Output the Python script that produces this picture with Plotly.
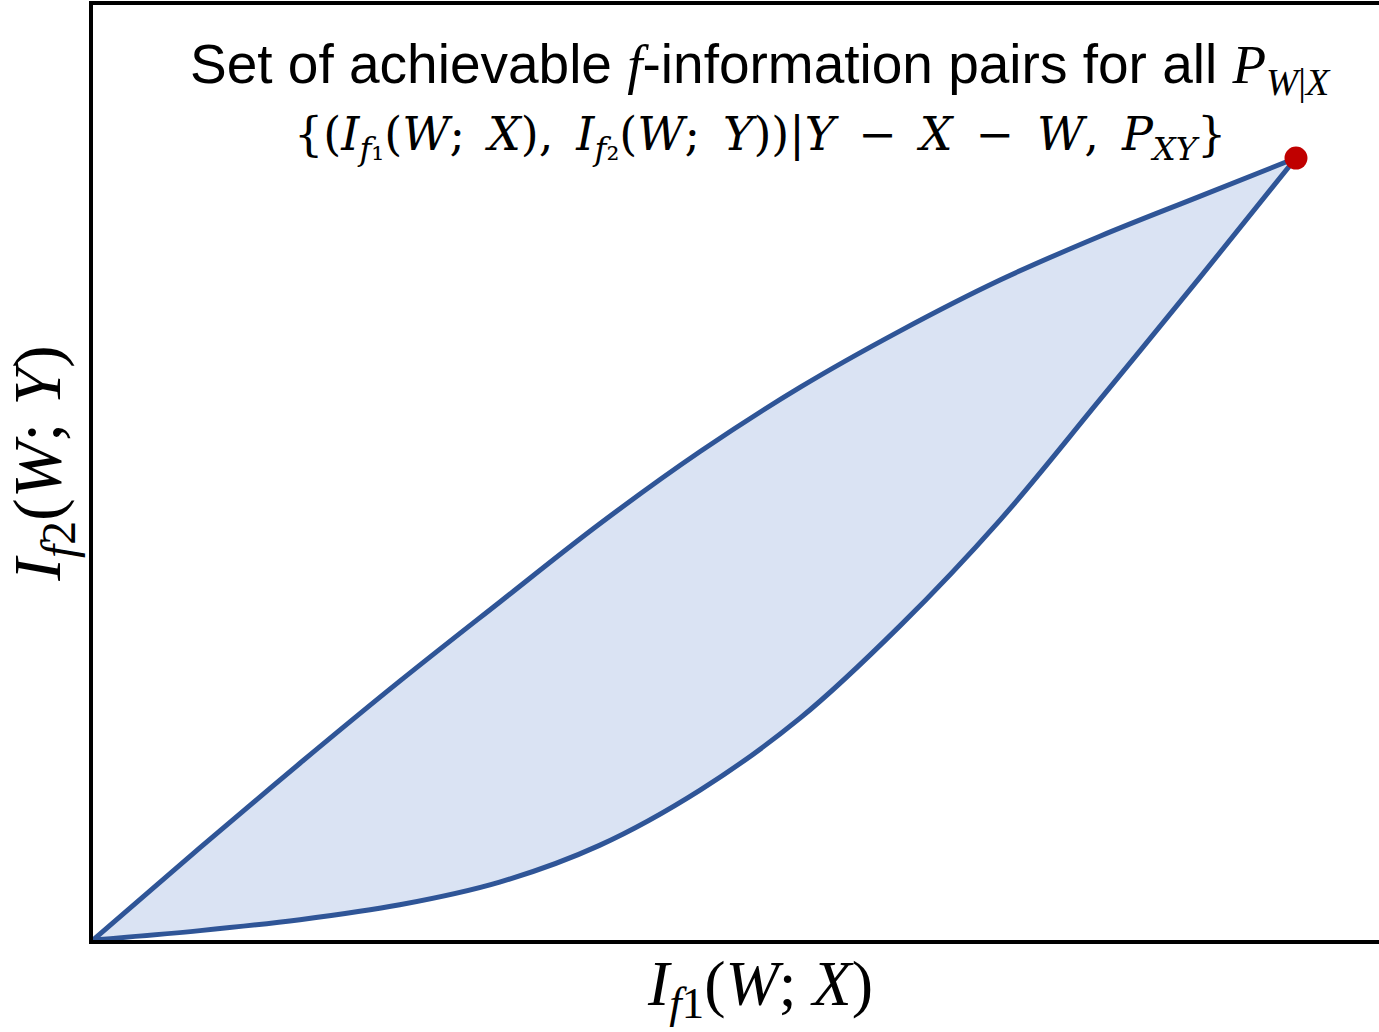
import plotly.graph_objects as go

# Boundary of the achievable region (normalised units, end point = (1, 1))
x_vals = [0.0, 0.089, 0.172, 0.255, 0.338, 0.421, 0.505, 0.588, 0.671, 0.754, 0.837, 0.920, 1.0]
upper_y = [0.0, 0.118, 0.226, 0.331, 0.432, 0.532, 0.625, 0.707, 0.779, 0.844, 0.900, 0.951, 1.0]
lower_y = [0.0, 0.012, 0.026, 0.045, 0.074, 0.121, 0.192, 0.284, 0.402, 0.537, 0.691, 0.847, 1.0]
end_point_x = [1.0]
end_point_y = [1.0]

SP = "\u2002"
title_line1 = ("Set of achievable <span style='font-family:Liberation Serif'><i>f</i></span>"
               "-information pairs for all "
               "<span style='font-family:Liberation Serif'><i>P</i><sub><i>W</i>|<i>X</i></sub></span>")
title_line2 = ("{(<i>I</i><sub><i>f</i>₁</sub>(<i>W</i>;" + SP + "<i>X</i>)," + SP +
               "<i>I</i><sub><i>f</i>₂</sub>(<i>W</i>;" + SP + "<i>Y</i>))|"
               "<i>Y</i>" + SP + "−" + SP + "<i>X</i>" + SP + "−" + SP + "<i>W</i>," + SP +
               "<i>P</i><sub><i>XY</i></sub>}")
x_label = "<i>I</i><sub><i>f</i>1</sub>(<i>W</i>; <i>X</i>)"
y_label = "<i>I</i><sub><i>f</i>2</sub>(<i>W</i>; <i>Y</i>)"

LINE = "#2F5597"
FILL = "#DAE3F3"

fig = go.Figure()
fig.add_trace(go.Scatter(x=x_vals, y=lower_y, mode="lines",
                         line=dict(color=LINE, width=5, shape="spline", smoothing=1.0),
                         showlegend=False, hoverinfo="skip"))
fig.add_trace(go.Scatter(x=x_vals, y=upper_y, mode="lines", fill="tonexty", fillcolor=FILL,
                         line=dict(color=LINE, width=5, shape="spline", smoothing=1.0),
                         showlegend=False, hoverinfo="skip"))
fig.add_trace(go.Scatter(x=end_point_x, y=end_point_y, mode="markers",
                         marker=dict(color="#C00000", size=23, line=dict(width=0)),
                         showlegend=False, hoverinfo="skip"))

fig.update_xaxes(range=[0, 1.069], showgrid=False, zeroline=False, showticklabels=False, ticks="",
                 showline=True, mirror=True, linecolor="black", linewidth=4)
fig.update_yaxes(range=[0, 1.1957], showgrid=False, zeroline=False, showticklabels=False, ticks="",
                 showline=True, linecolor="black", linewidth=4)

fig.add_annotation(text=title_line1, xref="paper", yref="paper", x=0.519, y=0.933, showarrow=False,
                   font=dict(family="Liberation Sans", size=55, color="black"), xanchor="center", yanchor="middle")
fig.add_annotation(text=title_line2, xref="paper", yref="paper", x=0.519, y=0.858, showarrow=False,
                   font=dict(family="DejaVu Serif", size=46, color="black"), xanchor="center", yanchor="middle")
fig.add_annotation(text=x_label, xref="paper", yref="paper", x=0.519, y=-0.051, showarrow=False,
                   font=dict(family="Liberation Serif", size=64, color="black"), xanchor="center", yanchor="middle")
fig.add_annotation(text=y_label, xref="paper", yref="paper", x=-0.04, y=0.509, showarrow=False, textangle=-90,
                   font=dict(family="Liberation Serif", size=68, color="black"), xanchor="center", yanchor="middle")

fig.update_layout(width=1379, height=1032, margin=dict(l=93, r=0, t=5, b=92),
                  plot_bgcolor="white", paper_bgcolor="white")
fig.write_html("out.html")
